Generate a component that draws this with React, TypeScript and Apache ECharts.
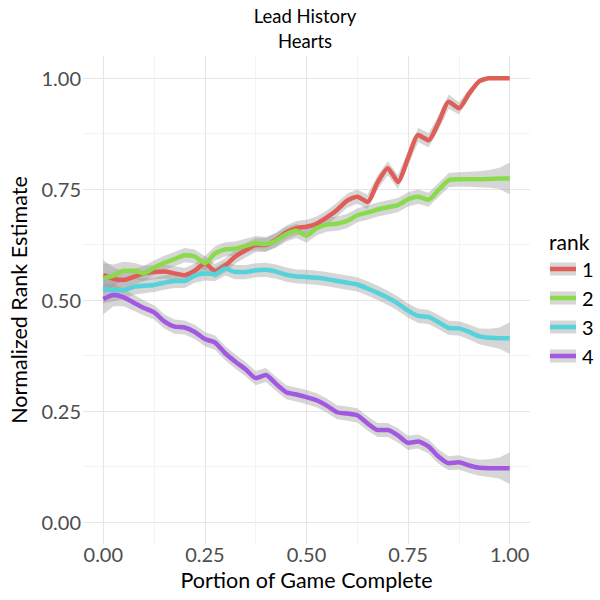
import React, { useEffect, useRef } from "react";
import * as echarts from "echarts";

// Portion of game complete (x positions of the smoothed estimates)
const portion = [
  0, 0.025, 0.05, 0.075, 0.1, 0.125, 0.15, 0.175, 0.2, 0.225,
  0.25, 0.275, 0.3, 0.325, 0.35, 0.375, 0.4, 0.425, 0.45, 0.475,
  0.5, 0.525, 0.55, 0.575, 0.6, 0.625, 0.65, 0.675, 0.7, 0.725,
  0.75, 0.775, 0.8, 0.825, 0.85, 0.875, 0.9, 0.925, 0.95, 0.975, 1,
];

const rank1 = [
  0.556, 0.548, 0.545, 0.552, 0.56, 0.563, 0.564, 0.56, 0.556, 0.566,
  0.583, 0.565, 0.578, 0.598, 0.612, 0.624, 0.624, 0.636, 0.652, 0.662,
  0.665, 0.672, 0.686, 0.703, 0.724, 0.733, 0.721, 0.765, 0.797, 0.766,
  0.82, 0.872, 0.86, 0.9, 0.947, 0.932, 0.965, 0.993, 1.0, 1.0, 1.0,
];
const rank2 = [
  0.549, 0.555, 0.566, 0.566, 0.56, 0.573, 0.584, 0.592, 0.601, 0.598,
  0.583, 0.605, 0.614, 0.616, 0.622, 0.628, 0.626, 0.634, 0.648, 0.656,
  0.645, 0.662, 0.67, 0.672, 0.678, 0.691, 0.697, 0.704, 0.709, 0.714,
  0.727, 0.733, 0.726, 0.748, 0.77, 0.772, 0.772, 0.772, 0.773, 0.774, 0.774,
];
const rank3 = [
  0.526, 0.522, 0.522, 0.53, 0.532, 0.534, 0.539, 0.543, 0.543, 0.555,
  0.56, 0.558, 0.571, 0.563, 0.563, 0.567, 0.568, 0.564, 0.557, 0.553,
  0.552, 0.55, 0.547, 0.543, 0.539, 0.535, 0.526, 0.516, 0.505, 0.492,
  0.476, 0.464, 0.462, 0.45, 0.437, 0.436, 0.428, 0.418, 0.415, 0.414, 0.414,
];
const rank4 = [
  0.502, 0.511, 0.506, 0.494, 0.482, 0.472, 0.452, 0.44, 0.438, 0.428,
  0.412, 0.404, 0.38, 0.361, 0.344, 0.324, 0.331, 0.311, 0.292, 0.287,
  0.281, 0.274, 0.262, 0.247, 0.244, 0.24, 0.222, 0.207, 0.207, 0.195,
  0.178, 0.181, 0.17, 0.147, 0.132, 0.134, 0.127, 0.122, 0.121, 0.121, 0.121,
];
// half-width of the confidence band
const bandHalf = [
  0.034, 0.025, 0.02, 0.018, 0.017, 0.016, 0.016, 0.016, 0.016, 0.016,
  0.016, 0.016, 0.016, 0.016, 0.016, 0.016, 0.016, 0.016, 0.016, 0.016,
  0.016, 0.016, 0.016, 0.016, 0.016, 0.016, 0.016, 0.016, 0.016, 0.016,
  0.016, 0.016, 0.016, 0.016, 0.016, 0.016, 0.017, 0.018, 0.02, 0.024, 0.036,
];
// rank 1 band collapses once the estimate reaches 1
const bandHalfRank1 = [
  0.034, 0.025, 0.02, 0.018, 0.017, 0.016, 0.016, 0.016, 0.016, 0.016,
  0.016, 0.016, 0.016, 0.016, 0.016, 0.016, 0.016, 0.016, 0.016, 0.016,
  0.016, 0.016, 0.016, 0.016, 0.016, 0.016, 0.016, 0.016, 0.016, 0.016,
  0.016, 0.016, 0.016, 0.016, 0.016, 0.014, 0.01, 0.005, 0.002, 0.001, 0.001,
];

const rankNames = ["1", "2", "3", "4"];
const rankValues = [rank1, rank2, rank3, rank4];
const rankBands = [bandHalfRank1, bandHalf, bandHalf, bandHalf];
const rankColors = ["#DF5F58", "#8ADB4C", "#55D2DA", "#A258E0"];

const majorTicks = [0, 0.25, 0.5, 0.75, 1];
const minorTicks = [0.125, 0.375, 0.625, 0.875];

const FONT = "Lato, 'Noto Sans', sans-serif";
const BAND = "rgba(153,153,153,0.4)";

export default function App() {
  const ref = useRef<HTMLDivElement>(null);

  useEffect(() => {
    document.body.style.margin = "0";
    if (!ref.current) return;
    const chart = echarts.init(ref.current, undefined, { renderer: "svg" });

    const series: any[] = [];
    rankValues.forEach((vals, i) => {
      const bh = rankBands[i];
      const bandData = portion.map((x, j) => [x, vals[j] - bh[j], vals[j] + bh[j]]);
      series.push({
        type: "custom",
        xAxisIndex: 0,
        yAxisIndex: 0,
        data: bandData,
        encode: { x: 0, y: [1, 2] },
        silent: true,
        renderItem: (params: any, api: any) => {
          if (params.dataIndex !== 0) return null;
          const upper = bandData.map((d) => api.coord([d[0], d[2]]));
          const lower = bandData.map((d) => api.coord([d[0], d[1]])).reverse();
          return {
            type: "polygon",
            shape: { points: upper.concat(lower) },
            style: { fill: BAND },
          };
        },
      });
      series.push({
        type: "line",
        name: rankNames[i],
        xAxisIndex: 0,
        yAxisIndex: 0,
        data: portion.map((x, j) => [x, vals[j]]),
        showSymbol: false,
        smooth: 0.2,
        lineStyle: { color: rankColors[i], width: 4.5 },
        silent: true,
      });
    });

    const legendItems: any[] = [];
    legendItems.push({
      type: "text",
      x: 549,
      y: 241,
      style: { text: "rank", font: `21px ${FONT}`, fill: "#000", verticalAlign: "middle", textVerticalAlign: "middle" },
    });
    rankNames.forEach((n, i) => {
      const cy = 269 + i * 29;
      legendItems.push({
        type: "rect",
        shape: { x: 550, y: cy - 6.5, width: 26, height: 13 },
        style: { fill: BAND },
      });
      legendItems.push({
        type: "line",
        shape: { x1: 550, y1: cy, x2: 576, y2: cy },
        style: { stroke: rankColors[i], lineWidth: 4.5 },
      });
      legendItems.push({
        type: "text",
        x: 582,
        y: cy,
        style: {
          text: n,
          font: `20px ${FONT}`,
          fill: "#000",
          textVerticalAlign: "middle",
          verticalAlign: "middle",
        },
      });
    });

    const axisCommon = {
      type: "value",
      min: -0.05,
      max: 1.05,
      axisLine: { show: false },
    };

    const titleStyle = (text: string) => ({
      text,
      font: `18.5px ${FONT}`,
      fill: "#000",
      textAlign: "center",
      align: "center",
      verticalAlign: "middle",
      textVerticalAlign: "middle",
    });

    chart.setOption({
      animation: false,
      grid: { left: 80, right: 70, top: 56, bottom: 56, containLabel: false },
      xAxis: [
        {
          ...axisCommon,
          position: "bottom",
          name: "Portion of Game Complete",
          nameLocation: "middle",
          nameGap: 25,
          nameTextStyle: { color: "#000", fontSize: 21.5, fontFamily: FONT },
          axisTick: { show: false, customValues: majorTicks },
          axisLabel: {
            customValues: majorTicks,
            margin: 0,
            color: "#4D4D4D",
            fontSize: 20,
            fontFamily: FONT,
            formatter: (v: number) => v.toFixed(2),
          },
          splitLine: { show: true, lineStyle: { color: "#E6E6E6", width: 1.2 } },
        },
        {
          ...axisCommon,
          position: "top",
          axisTick: { show: false, customValues: minorTicks },
          axisLabel: { show: false, customValues: minorTicks },
          splitLine: { show: true, lineStyle: { color: "#F3F3F3", width: 1 } },
        },
      ],
      yAxis: [
        {
          ...axisCommon,
          position: "left",
          name: "Normalized Rank Estimate",
          nameLocation: "middle",
          nameGap: 53,
          nameTextStyle: { color: "#000", fontSize: 21.5, fontFamily: FONT },
          axisTick: { show: false, customValues: majorTicks },
          axisLabel: {
            customValues: majorTicks,
            margin: 2,
            color: "#4D4D4D",
            fontSize: 20,
            fontFamily: FONT,
            formatter: (v: number) => v.toFixed(2),
          },
          splitLine: { show: true, lineStyle: { color: "#E6E6E6", width: 1.2 } },
        },
        {
          ...axisCommon,
          position: "right",
          axisTick: { show: false, customValues: minorTicks },
          axisLabel: { show: false, customValues: minorTicks },
          splitLine: { show: true, lineStyle: { color: "#F3F3F3", width: 1 } },
        },
      ],
      graphic: [
        { type: "text", x: 305, y: 16, style: titleStyle("Lead History") },
        { type: "text", x: 305, y: 41, style: titleStyle("Hearts") },
        ...legendItems,
      ],
      series,
    });

    return () => chart.dispose();
  }, []);

  return <div ref={ref} style={{ width: 600, height: 600 }} />;
}
